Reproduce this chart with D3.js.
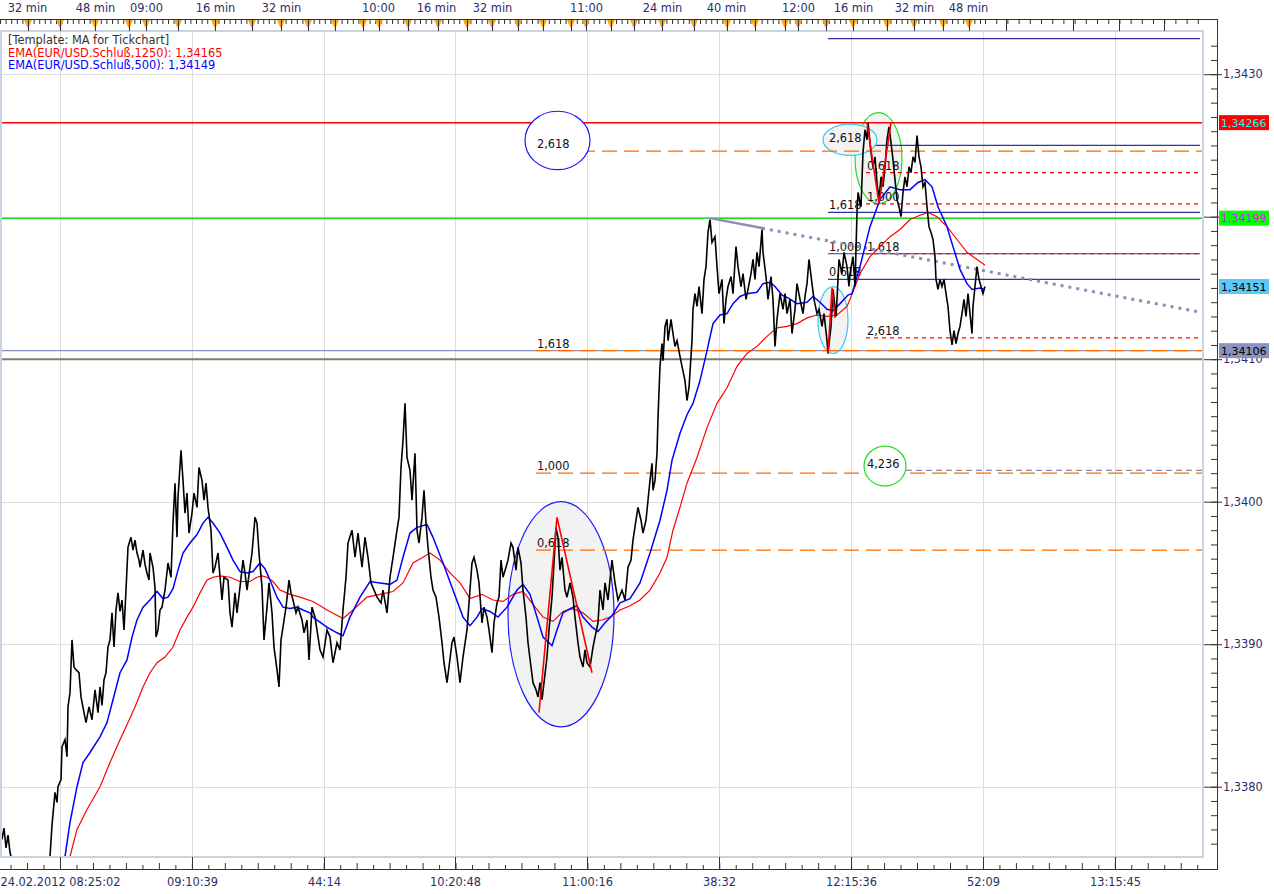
<!DOCTYPE html>
<html><head><meta charset="utf-8">
<script src="https://cdn.jsdelivr.net/npm/d3@7"></script>
<style>
body{margin:0;background:#fff}
svg{display:block}
text{font-family:"DejaVu Sans",Verdana,sans-serif;font-size:11.4px}
</style>
</head><body>
<svg id="c" width="1274" height="894"></svg>
<script>
// ---------------- DATA ----------------
// price axis
const priceMajor = [1.338, 1.339, 1.340, 1.341, 1.342, 1.343];
// bottom time axis (tick numbers of the tick chart)
const bottomTickPos = [60, 192, 324, 455, 587, 719, 851, 983, 1115];
const bottomLabels = ["24.02.2012 08:25:02", "09:10:39", "44:14", "10:20:48", "11:00:16", "38:32", "12:15:36", "52:09", "13:15:45"];
// top time axis
const topLabelPos = [27, 95, 146, 215, 281, 378, 436, 492, 586, 662, 726, 798, 853, 914, 968];
const topLabels = ["32 min", "48 min", "09:00", "16 min", "32 min", "10:00", "16 min", "32 min", "11:00", "24 min", "40 min", "12:00", "16 min", "32 min", "48 min"];
const sessionMarks = [28, 60, 95, 129, 146, 178, 215, 252, 281, 308, 335, 363, 379, 408, 438, 467, 492, 518, 543, 571, 586, 611, 634, 662, 694, 727, 755, 785, 798, 826, 853, 887, 914, 943, 969];
const topProjected = [1006, 1073, 1119, 1164];

// legend
const legendLines = ["[Template: MA for Tickchart]", "EMA(EUR/USD.Schluß,1250): 1,34165", "EMA(EUR/USD.Schluß,500): 1,34149"];

// EUR/USD tick closes [tick, price]
const closeSeries = [
[0,1.33775],[2,1.33763],[4,1.33771],[6,1.33757],[8,1.33766],[10,1.33754],[13,1.33745],[20,1.33735],[30,1.33738],[40,1.33731],[46,1.33742],[50,1.33751],[52,1.33773],[55,1.33796],[57,1.33789],[58,1.33800],[61,1.33805],[62,1.33828],[65,1.33833],[67,1.33821],[68,1.33856],[70,1.33866],[72,1.33903],[74,1.33884],[76,1.33882],[79,1.33880],[81,1.33863],[84,1.33852],[86,1.33845],[89,1.33856],[92,1.33847],[95,1.33868],[98,1.33852],[100,1.33870],[102,1.33857],[104,1.33875],[106,1.33880],[108,1.33898],[110,1.33903],[112,1.33922],[114,1.33898],[116,1.33924],[118,1.33936],[120,1.33923],[122,1.33931],[124,1.33910],[126,1.33938],[128,1.33968],[130,1.33973],[131,1.33975],[133,1.33966],[135,1.33973],[137,1.33964],[139,1.33959],[140,1.33954],[143,1.33966],[145,1.33956],[147,1.33950],[149,1.33945],[150,1.33964],[153,1.33954],[155,1.33940],[156,1.33905],[158,1.33910],[160,1.33924],[162,1.33926],[165,1.33938],[168,1.33957],[171,1.33947],[173,1.33985],[175,1.34013],[177,1.33975],[178,1.34003],[181,1.34036],[183,1.34015],[185,1.33992],[187,1.34006],[189,1.33978],[192,1.33992],[194,1.34006],[197,1.33996],[199,1.34024],[202,1.34015],[204,1.34001],[206,1.34013],[208,1.33996],[211,1.33980],[213,1.33950],[215,1.33954],[218,1.33964],[222,1.33931],[224,1.33947],[228,1.33945],[230,1.33922],[232,1.33912],[235,1.33936],[237,1.33922],[240,1.33940],[243,1.33959],[245,1.33950],[247,1.33938],[250,1.33954],[252,1.33964],[255,1.33989],[257,1.33985],[259,1.33964],[262,1.33940],[264,1.33903],[267,1.33926],[269,1.33943],[272,1.33922],[274,1.33898],[277,1.33882],[279,1.33870],[281,1.33903],[283,1.33912],[286,1.33926],[289,1.33945],[291,1.33936],[293,1.33931],[296,1.33922],[298,1.33926],[302,1.33917],[304,1.33908],[307,1.33917],[309,1.33889],[312,1.33926],[315,1.33919],[320,1.33896],[323,1.33891],[327,1.33910],[330,1.33905],[333,1.33887],[337,1.33901],[340,1.33896],[343,1.33924],[346,1.33947],[348,1.33971],[352,1.33980],[355,1.33961],[358,1.33978],[362,1.33954],[365,1.33975],[368,1.33961],[371,1.33943],[374,1.33938],[377,1.33933],[381,1.33929],[383,1.33938],[387,1.33922],[390,1.33947],[393,1.33961],[397,1.33980],[399,1.33989],[401,1.34024],[403,1.34043],[405,1.34069],[407,1.34031],[410,1.34022],[412,1.34001],[415,1.34034],[417,1.33980],[419,1.33971],[422,1.33989],[424,1.34008],[426,1.33985],[428,1.33968],[431,1.33947],[433,1.33938],[436,1.33933],[439,1.33919],[442,1.33901],[444,1.33887],[447,1.33873],[449,1.33884],[452,1.33901],[454,1.33905],[457,1.33891],[460,1.33873],[463,1.33891],[467,1.33910],[469,1.33929],[472,1.33957],[474,1.33961],[477,1.33952],[479,1.33943],[482,1.33915],[484,1.33926],[487,1.33919],[489,1.33910],[492,1.33894],[494,1.33915],[497,1.33929],[499,1.33933],[501,1.33959],[503,1.33947],[506,1.33954],[508,1.33959],[511,1.33971],[513,1.33968],[516,1.33952],[518,1.33968],[521,1.33957],[523,1.33938],[526,1.33919],[528,1.33901],[531,1.33884],[533,1.33873],[536,1.33868],[538,1.33863],[540,1.33873],[542,1.33861],[544,1.33873],[547,1.33891],[549,1.33910],[552,1.33933],[554,1.33957],[556,1.33982],[558,1.33975],[560,1.33952],[562,1.33961],[565,1.33938],[567,1.33933],[570,1.33943],[573,1.33933],[575,1.33919],[578,1.33901],[580,1.33891],[583,1.33884],[585,1.33896],[587,1.33887],[590,1.33884],[593,1.33898],[595,1.33905],[598,1.33915],[600,1.33938],[603,1.33924],[605,1.33943],[608,1.33931],[612,1.33959],[615,1.33943],[618,1.33931],[622,1.33938],[625,1.33931],[628,1.33954],[631,1.33959],[633,1.33973],[636,1.33987],[638,1.33996],[641,1.33987],[643,1.33978],[646,1.33987],[648,1.34001],[650,1.34015],[652,1.34027],[653,1.34008],[655,1.34015],[657,1.34034],[658,1.34059],[660,1.34095],[662,1.34111],[663,1.34099],[665,1.34123],[667,1.34128],[668,1.34113],[671,1.34128],[673,1.34118],[675,1.34109],[677,1.34113],[680,1.34102],[682,1.34095],[685,1.34085],[687,1.34071],[689,1.34080],[692,1.34113],[693,1.34135],[695,1.34146],[697,1.34137],[699,1.34151],[702,1.34132],[704,1.34156],[706,1.34165],[708,1.34189],[710,1.34198],[712,1.34182],[715,1.34186],[717,1.34165],[719,1.34146],[722,1.34156],[724,1.34125],[726,1.34142],[728,1.34151],[731,1.34158],[733,1.34146],[736,1.34179],[738,1.34165],[741,1.34151],[743,1.34160],[746,1.34142],[748,1.34149],[751,1.34160],[753,1.34170],[755,1.34156],[757,1.34175],[759,1.34165],[762,1.34191],[763,1.34175],[766,1.34158],[768,1.34142],[771,1.34158],[773,1.34142],[775,1.34109],[777,1.34128],[780,1.34146],[783,1.34135],[785,1.34146],[787,1.34132],[790,1.34142],[792,1.34118],[795,1.34135],[797,1.34153],[800,1.34142],[803,1.34132],[805,1.34144],[807,1.34153],[809,1.34170],[812,1.34153],[814,1.34142],[817,1.34132],[819,1.34135],[822,1.34123],[824,1.34132],[827,1.34113],[828,1.34104],[831,1.34123],[833,1.34149],[836,1.34130],[837,1.34142],[839,1.34170],[842,1.34160],[844,1.34175],[847,1.34165],[849,1.34151],[850,1.34160],[853,1.34172],[855,1.34151],[857,1.34203],[858,1.34217],[861,1.34207],[863,1.34245],[865,1.34261],[867,1.34254],[868,1.34266],[871,1.34245],[873,1.34235],[875,1.34242],[877,1.34224],[879,1.34212],[881,1.34228],[883,1.34221],[885,1.34235],[887,1.34254],[889,1.34263],[891,1.34252],[893,1.34240],[895,1.34226],[897,1.34212],[899,1.34207],[901,1.34200],[903,1.34217],[905,1.34228],[907,1.34221],[909,1.34235],[911,1.34231],[913,1.34242],[915,1.34238],[917,1.34257],[919,1.34242],[921,1.34235],[923,1.34221],[925,1.34224],[927,1.34207],[929,1.34193],[931,1.34189],[933,1.34184],[935,1.34172],[936,1.34156],[938,1.34149],[940,1.34156],[942,1.34151],[944,1.34156],[946,1.34146],[948,1.34137],[950,1.34120],[952,1.34110],[954,1.34120],[956,1.34111],[958,1.34118],[960,1.34123],[962,1.34132],[964,1.34142],[966,1.34130],[968,1.34146],[970,1.34132],[972,1.34118],[973,1.34137],[975,1.34151],[977,1.34165],[979,1.34156],[981,1.34151],[983,1.34146],[985,1.34151]
];

// EMA(500) [tick, price]
const ema500 = [
[65,1.33751],[70,1.33775],[77,1.33800],[83,1.33817],[90,1.33824],[100,1.33835],[107,1.33845],[113,1.33861],[120,1.33880],[127,1.33889],[132,1.33905],[137,1.33917],[143,1.33926],[150,1.33931],[157,1.33937],[163,1.33932],[168,1.33933],[173,1.33939],[178,1.33952],[183,1.33964],[190,1.33971],[197,1.33977],[203,1.33985],[208,1.33989],[213,1.33985],[220,1.33978],[227,1.33968],[233,1.33959],[240,1.33951],[247,1.33950],[253,1.33951],[260,1.33957],[265,1.33953],[270,1.33945],[277,1.33933],[283,1.33926],[290,1.33925],[297,1.33926],[303,1.33924],[310,1.33922],[313,1.33919],[327,1.33912],[337,1.33908],[343,1.33906],[350,1.33919],[360,1.33933],[370,1.33944],[380,1.33943],[390,1.33942],[397,1.33945],[403,1.33961],[410,1.33978],[417,1.33982],[427,1.33984],[433,1.33975],[443,1.33957],[453,1.33938],[463,1.33919],[470,1.33913],[477,1.33919],[482,1.33925],[490,1.33923],[498,1.33919],[507,1.33926],[517,1.33938],[523,1.33942],[530,1.33935],[537,1.33919],[543,1.33905],[552,1.33899],[557,1.33910],[563,1.33922],[570,1.33925],[577,1.33927],[583,1.33919],[592,1.33912],[598,1.33909],[605,1.33915],[612,1.33920],[620,1.33929],[630,1.33932],[640,1.33943],[650,1.33964],[660,1.33987],[667,1.34008],[672,1.34029],[680,1.34048],[687,1.34061],[693,1.34069],[700,1.34085],[707,1.34106],[713,1.34125],[720,1.34131],[727,1.34132],[733,1.34139],[740,1.34144],[747,1.34146],[757,1.34147],[763,1.34153],[770,1.34154],[775,1.34151],[782,1.34145],[788,1.34143],[797,1.34139],[807,1.34140],[813,1.34144],[820,1.34140],[827,1.34135],[833,1.34134],[840,1.34139],[848,1.34145],[852,1.34146],[860,1.34165],[870,1.34193],[880,1.34212],[890,1.34221],[900,1.34219],[910,1.34219],[918,1.34224],[925,1.34226],[932,1.34221],[938,1.34207],[947,1.34193],[953,1.34179],[960,1.34163],[967,1.34153],[972,1.34149],[980,1.34150],[985,1.34149]
];

// EMA(1250) [tick, price]
const ema1250 = [
[70,1.33751],[77,1.33770],[87,1.33784],[100,1.33800],[110,1.33817],[120,1.33833],[128,1.33845],[135,1.33856],[143,1.33870],[150,1.33880],[157,1.33887],[165,1.33891],[173,1.33898],[180,1.33910],[187,1.33919],[193,1.33926],[200,1.33936],[207,1.33945],[213,1.33947],[220,1.33948],[230,1.33947],[240,1.33944],[250,1.33944],[257,1.33947],[262,1.33948],[267,1.33947],[273,1.33944],[280,1.33938],[290,1.33935],[300,1.33933],[313,1.33930],[327,1.33924],[343,1.33918],[353,1.33924],[367,1.33933],[380,1.33935],[393,1.33937],[403,1.33943],[413,1.33957],[423,1.33961],[430,1.33964],[440,1.33959],[450,1.33950],[460,1.33943],[470,1.33932],[482,1.33935],[493,1.33931],[503,1.33930],[513,1.33935],[523,1.33937],[533,1.33928],[543,1.33919],[553,1.33916],[563,1.33923],[573,1.33925],[583,1.33922],[593,1.33916],[602,1.33917],[610,1.33919],[620,1.33924],[630,1.33927],[640,1.33931],[650,1.33938],[660,1.33950],[667,1.33961],[673,1.33980],[680,1.33996],[687,1.34013],[697,1.34031],[707,1.34052],[717,1.34069],[727,1.34080],[737,1.34095],[747,1.34104],[757,1.34109],[767,1.34116],[777,1.34122],[787,1.34123],[797,1.34125],[807,1.34129],[817,1.34131],[827,1.34130],[837,1.34131],[847,1.34137],[850,1.34142],[860,1.34160],[870,1.34172],[880,1.34179],[890,1.34186],[900,1.34191],[910,1.34198],[920,1.34201],[928,1.34203],[937,1.34200],[947,1.34193],[957,1.34184],[967,1.34175],[977,1.34170],[985,1.34166]
];

// horizontal price lines across the chart
const hLinePrices = [1.34266, 1.34199, 1.34106, 1.34100];
// price boxes on the right axis
const boxPrices = [1.34266, 1.34199, 1.34151, 1.34106];

// Fibonacci tools: level labels, prices, start tick
const fibOrangeLevels = ["2,618", "1,618", "1,000", "0,618"];
const fibOrangePrices = [1.34246, 1.34106, 1.34020, 1.33966];
const fibOrangeStart = 536;
const fibNavyLevels = ["", "2,618", "1,618", "1,000", "0,618"];
const fibNavyPrices = [1.34325, 1.34250, 1.34203, 1.34174, 1.34156];
const fibNavyStart = 828;
const fibRedLevels = ["0,618", "1,000", "1,618", "2,618"];
const fibRedPrices = [1.34231, 1.34209, 1.34174, 1.34115];
const fibRedStart = 866;
const fibExtLevel = "4,236";
const fibExtPrice = 1.34022;

// marked areas: [tick from, tick to], [price top, price bottom]
const areaTicks = [[508, 614], [855, 902], [818, 848]];
const areaPrices = [[1.34000, 1.33842], [1.34273, 1.34209], [1.34151, 1.34104]];
const cyanTagTicks = [823, 877];
const cyanTagPrices = [1.34265, 1.34243];
const circleTicks = [[525, 590], [864, 906]];
const circlePrices = [[1.34274, 1.34233], [1.34039, 1.34011]];

// zigzag wave marks
const zigzags = [
  [[539, 1.33852], [557, 1.33989], [592, 1.33880]],
  [[867, 1.34266], [879, 1.34209], [891, 1.34266]],
  [[828, 1.34104], [832, 1.34150], [835, 1.34129]]
];
// trend line anchors
const trendAnchors = [[710, 1.34199], [762, 1.34192]];

// ---------------- DRAW ----------------
const svg = d3.select("#c");
const PL = 0, PR = 1203, PT = 31, PB = 857, AX = 1217;
const x = d3.scaleLinear().domain([0, 1203]).range([PL, PR]);
const y = d3.scaleLinear().domain([1.3375, 1.3433]).range([857.95, 31.45]);
const fmt4 = p => d3.format(".4f")(p).replace(".", ",");
const fmt5 = p => d3.format(".5f")(p).replace(".", ",");
const axisCol = "#2d2d66";

svg.append("rect").attr("width", 1274).attr("height", 894).attr("fill", "#fff");
svg.append("defs").append("clipPath").attr("id", "clip")
  .append("rect").attr("x", PL).attr("y", PT).attr("width", PR - PL).attr("height", PB - PT);

// grid
const grid = svg.append("g");
grid.selectAll(".gv").data(bottomTickPos).join("line").attr("class", "gv")
  .attr("x1", d => x(d) + 0.5).attr("x2", d => x(d) + 0.5).attr("y1", PT).attr("y2", PB)
  .attr("stroke", "#dddddd");
grid.selectAll(".gh").data(priceMajor).join("line").attr("class", "gh")
  .attr("x1", PL).attr("x2", PR).attr("y1", d => Math.round(y(d)) + 0.5).attr("y2", d => Math.round(y(d)) + 0.5)
  .attr("stroke", "#dddddd");

const plot = svg.append("g").attr("clip-path", "url(#clip)");
const lineGen = d3.line().x(d => x(d[0])).y(d => y(d[1]));

// gray shaded areas
const areaStroke = ["#1a1aff", "#22dd22", "#33ccee"];
plot.selectAll(".area").data(areaTicks).join("ellipse").attr("class", "area")
  .attr("cx", (d, i) => (x(d[0]) + x(d[1])) / 2)
  .attr("cy", (d, i) => (y(areaPrices[i][0]) + y(areaPrices[i][1])) / 2)
  .attr("rx", d => (x(d[1]) - x(d[0])) / 2)
  .attr("ry", (d, i) => (y(areaPrices[i][1]) - y(areaPrices[i][0])) / 2)
  .attr("fill", "#f2f2f2").attr("stroke", (d, i) => areaStroke[i]).attr("stroke-width", 1.2);

// horizontal price lines
const hCol = ["#ff0000", "#22dd22", "#8890c0", "#7e7e6a"];
const hW = [1.5, 1.5, 1.3, 2];
plot.selectAll(".hl").data(hLinePrices).join("line").attr("class", "hl")
  .attr("x1", PL).attr("x2", PR)
  .attr("y1", d => y(d)).attr("y2", d => y(d))
  .attr("stroke", (d, i) => hCol[i]).attr("stroke-width", (d, i) => hW[i]);

// navy fib lines
plot.selectAll(".fn").data(fibNavyPrices).join("line").attr("class", "fn")
  .attr("x1", x(fibNavyStart)).attr("x2", PR - 3)
  .attr("y1", d => y(d)).attr("y2", d => y(d))
  .attr("stroke", "#333399").attr("stroke-width", 1.2);

// cyan tag ellipse
plot.append("ellipse")
  .attr("cx", (x(cyanTagTicks[0]) + x(cyanTagTicks[1])) / 2)
  .attr("cy", (y(cyanTagPrices[0]) + y(cyanTagPrices[1])) / 2)
  .attr("rx", (x(cyanTagTicks[1]) - x(cyanTagTicks[0])) / 2)
  .attr("ry", (y(cyanTagPrices[1]) - y(cyanTagPrices[0])) / 2)
  .attr("fill", "#f2f2f2").attr("stroke", "#33ccee").attr("stroke-width", 1.2);

// orange fib lines
plot.selectAll(".fo").data(fibOrangePrices).join("line").attr("class", "fo")
  .attr("x1", x(fibOrangeStart)).attr("x2", PR)
  .attr("y1", d => y(d)).attr("y2", d => y(d))
  .attr("stroke", "#ff6a00").attr("stroke-width", 1.3).attr("stroke-dasharray", "15,7");
// red dotted fib lines
plot.selectAll(".fr").data(fibRedPrices).join("line").attr("class", "fr")
  .attr("x1", x(fibRedStart)).attr("x2", PR)
  .attr("y1", d => y(d)).attr("y2", d => y(d))
  .attr("stroke", "#ff0000").attr("stroke-width", 1.2).attr("stroke-dasharray", "4,4");
plot.append("line")
  .attr("x1", x(fibRedStart)).attr("x2", PR)
  .attr("y1", y(fibExtPrice)).attr("y2", y(fibExtPrice))
  .attr("stroke", "#8a8ab0").attr("stroke-width", 1.3).attr("stroke-dasharray", "6,4");

// white circles around level tags
const circStroke = ["#1a1aff", "#22dd22"];
plot.selectAll(".circ").data(circleTicks).join("ellipse").attr("class", "circ")
  .attr("cx", d => (x(d[0]) + x(d[1])) / 2)
  .attr("cy", (d, i) => (y(circlePrices[i][0]) + y(circlePrices[i][1])) / 2)
  .attr("rx", d => (x(d[1]) - x(d[0])) / 2)
  .attr("ry", (d, i) => (y(circlePrices[i][1]) - y(circlePrices[i][0])) / 2)
  .attr("fill", "#fff").attr("stroke", (d, i) => circStroke[i]).attr("stroke-width", 1.2);

// fib labels
const labels = plot.append("g").attr("fill", "#111");
fibOrangeLevels.forEach((t, i) => labels.append("text").attr("x", x(fibOrangeStart) + 1).attr("y", y(fibOrangePrices[i]) - 3).text(t));
fibNavyLevels.forEach((t, i) => labels.append("text").attr("x", x(fibNavyStart) + 1).attr("y", y(fibNavyPrices[i]) - 3).text(t));
fibRedLevels.forEach((t, i) => labels.append("text").attr("x", x(fibRedStart) + 1).attr("y", y(fibRedPrices[i]) - 3).text(t));
labels.append("text").attr("x", x(fibRedStart) + 1).attr("y", y(fibExtPrice) - 2).text(fibExtLevel);

// trend line: solid between anchors, dotted extension to chart edge
const slope = (trendAnchors[1][1] - trendAnchors[0][1]) / (trendAnchors[1][0] - trendAnchors[0][0]);
const trendEnd = [1203, trendAnchors[1][1] + slope * (1203 - trendAnchors[1][0])];
plot.append("path").attr("d", lineGen(trendAnchors)).attr("fill", "none")
  .attr("stroke", "#8a8fb5").attr("stroke-width", 2.5);
plot.append("path").attr("d", lineGen([trendAnchors[1], trendEnd])).attr("fill", "none")
  .attr("stroke", "#8a8fb5").attr("stroke-width", 3).attr("stroke-dasharray", "3,5");

// EMAs
plot.append("path").attr("d", lineGen(ema1250)).attr("fill", "none").attr("stroke", "#ff0000").attr("stroke-width", 1.2);
plot.append("path").attr("d", lineGen(ema500)).attr("fill", "none").attr("stroke", "#0000ff").attr("stroke-width", 1.5);
// price
plot.append("path").attr("d", lineGen(closeSeries)).attr("fill", "none").attr("stroke", "#000").attr("stroke-width", 1.6)
  .attr("stroke-linejoin", "miter");
// zigzags
plot.selectAll(".zz").data(zigzags).join("path").attr("class", "zz")
  .attr("d", d => lineGen(d)).attr("fill", "none").attr("stroke", "#ff0000").attr("stroke-width", 1.6);

// plot frame
svg.append("rect").attr("x", PL + 1).attr("y", PT).attr("width", PR - PL - 1).attr("height", PB - PT)
  .attr("fill", "none").attr("stroke", "#c8d4e2").attr("stroke-width", 2);

// legend
const legCol = ["#333333", "#ff0000", "#0000ff"];
svg.selectAll(".leg").data(legendLines).join("text").attr("class", "leg")
  .attr("x", 8).attr("y", (d, i) => 44 + i * 12.5).attr("fill", (d, i) => legCol[i]).text(d => d);

// ---- axes ----
function styleAxis(g) {
  g.select(".domain").remove();
  g.selectAll(".tick line").attr("stroke", "#333");
  g.selectAll(".tick text").attr("fill", axisCol).style("font-family", '"DejaVu Sans",Verdana,sans-serif').style("font-size", "11.4px");
}
// bottom
const minorB = d3.range(-3, 70).map(k => 60 + k * 131.85 / 8).filter(v => v >= 0 && v <= 1204);
svg.append("g").attr("transform", "translate(0,869)")
  .call(d3.axisBottom(x).tickValues(minorB.filter((v, i) => i % 2 === 0)).tickSizeInner(-4).tickSizeOuter(0).tickFormat(""))
  .call(styleAxis);
svg.append("g").attr("transform", "translate(0,869)")
  .call(d3.axisBottom(x).tickValues(minorB.filter((v, i) => i % 2 === 1)).tickSizeInner(-6).tickSizeOuter(0).tickFormat(""))
  .call(styleAxis);
svg.append("g").attr("transform", "translate(0,869)")
  .call(d3.axisBottom(x).tickValues(bottomTickPos).tickSizeInner(-12).tickSizeOuter(0).tickPadding(9)
    .tickFormat((d, i) => bottomLabels[i]))
  .call(styleAxis);
svg.append("line").attr("x1", 0).attr("x2", AX).attr("y1", 869.5).attr("y2", 869.5).attr("stroke", "#333");

// top
const topMinor = d3.range(0, 985, 5.6).concat(d3.range(985, 1203, 11.2));
svg.append("g").attr("transform", "translate(0,19)")
  .call(d3.axisTop(x).tickValues(topMinor).tickSizeInner(-5).tickSizeOuter(0).tickFormat(""))
  .call(styleAxis);
svg.append("g").attr("transform", "translate(0,19)")
  .call(d3.axisTop(x).tickValues(topProjected).tickSizeInner(-12).tickSizeOuter(0).tickFormat(""))
  .call(styleAxis);
const tri = svg.append("g");
tri.selectAll("path").data(sessionMarks).join("path")
  .attr("d", d => `M${x(d) - 4},20 L${x(d) + 4},20 L${x(d)},29 Z`).attr("fill", "#f5a623");
svg.append("g").attr("transform", "translate(0,19)")
  .call(d3.axisTop(x).tickValues(sessionMarks).tickSizeInner(-12).tickSizeOuter(0).tickFormat(""))
  .call(styleAxis);
svg.append("g").attr("transform", "translate(0,19)")
  .call(d3.axisTop(x).tickValues(topLabelPos).tickSizeInner(0).tickSizeOuter(0).tickPadding(7)
    .tickFormat((d, i) => topLabels[i]))
  .call(styleAxis);
svg.append("line").attr("x1", 0).attr("x2", AX).attr("y1", 19.5).attr("y2", 19.5).attr("stroke", "#333");

// right price axis (labels hidden where a price box sits on top of them)
const minorP = d3.range(13376, 13433).map(v => v / 10000);
svg.append("g").attr("transform", `translate(${AX},0)`)
  .call(d3.axisLeft(y).tickValues(minorP).tickSizeInner(6).tickSizeOuter(0).tickFormat(""))
  .call(styleAxis);
svg.append("g").attr("transform", `translate(${AX},0)`)
  .call(d3.axisLeft(y).tickValues(priceMajor).tickSizeInner(13).tickSizeOuter(0).tickFormat(""))
  .call(styleAxis);
svg.append("g").attr("transform", `translate(${AX},0)`)
  .call(d3.axisRight(y).tickValues(priceMajor).tickSizeInner(5).tickSizeOuter(0).tickPadding(1)
    .tickFormat(d => boxPrices.some(b => Math.abs(y(b) - y(d)) < 3) ? "" : fmt4(d)))
  .call(styleAxis);
svg.append("line").attr("x1", AX + 0.5).attr("x2", AX + 0.5).attr("y1", 19).attr("y2", 870).attr("stroke", "#333");

// price boxes
const boxBg = ["#ff0000", "#00ff00", "#5ac8fa", "#8a93bf"];
const boxFg = ["#00ffff", "#ff00ff", "#000000", "#000000"];
const boxes = svg.selectAll(".box").data(boxPrices).join("g").attr("class", "box");
boxes.append("rect").attr("x", AX + 2).attr("y", d => y(d) - 7.5).attr("width", 50).attr("height", 15)
  .attr("fill", (d, i) => boxBg[i]);
boxes.append("text").attr("x", AX + 4).attr("y", d => y(d) + 4).attr("fill", (d, i) => boxFg[i])
  .style("font-size", "11px").text(d => fmt5(d));
</script>
</body></html>
